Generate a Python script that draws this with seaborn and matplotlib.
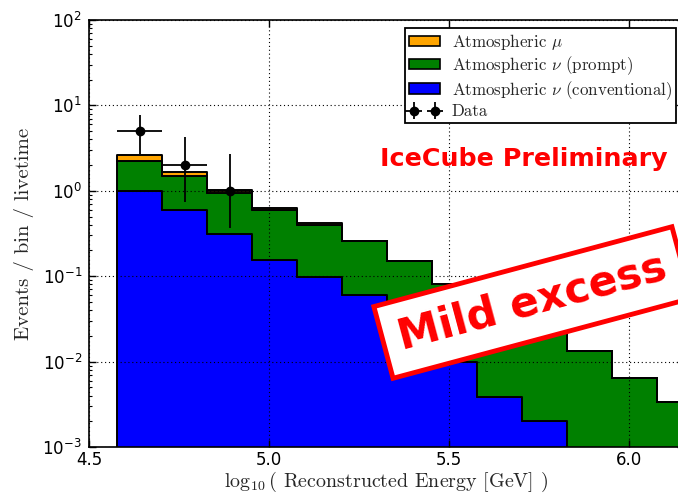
import numpy as np
import pandas as pd
import matplotlib
matplotlib.use("Agg")
import matplotlib.pyplot as plt
import matplotlib.patches as mpatches
import seaborn as sns

# ---------------- data ----------------
bin_edges = [4.578 + 0.125 * k for k in range(14)]
conventional = [1.0, 0.60, 0.31, 0.156, 0.099, 0.060, 0.025, 0.010, 0.0039, 0.00204, 0.0, 0.0, 0.0]
prompt = [1.21, 0.89, 0.625, 0.44, 0.296, 0.195, 0.125, 0.072, 0.041, 0.023, 0.0134, 0.00647, 0.0034]
muon = [0.41, 0.18, 0.08, 0.035, 0.022, 0.005, 0.001, 0.0, 0.0, 0.0, 0.0, 0.0, 0.0]

data_x = [4.6405, 4.7655, 4.8905]
data_y = [5.0, 2.0, 1.0]
data_err_lo = [2.30, 1.26, 0.63]
data_err_hi = [2.72, 2.27, 1.70]
data_xerr = [0.0625, 0.0625, 0.0625]

labels = [r"Atmospheric $\mu$", r"Atmospheric $\nu$ (prompt)", r"Atmospheric $\nu$ (conventional)"]
colors = ["#FFA500", "#008000", "#0000FF"]

# ---------------- build table ----------------
centers = [(bin_edges[i] + bin_edges[i + 1]) / 2 for i in range(len(bin_edges) - 1)]
rows = []
for name, vals in zip(labels, [muon, prompt, conventional]):
    for c, v in zip(centers, vals):
        rows.append({"x": c, "w": v, "comp": name})
df = pd.DataFrame(rows)

sns.set_style("ticks")
plt.rcParams["mathtext.fontset"] = "cm"
plt.rcParams["font.family"] = ["DejaVu Sans"]
plt.rcParams["axes.unicode_minus"] = False

fig = plt.figure(figsize=(6.78, 4.93), dpi=100)
ax = fig.add_axes([89 / 678, 1 - 447 / 493, (684 - 89) / 678, (447 - 20) / 493])

sns.histplot(data=df, x="x", weights="w", hue="comp", hue_order=labels,
             multiple="stack", element="step", bins=bin_edges,
             palette=dict(zip(labels, colors)), edgecolor="black",
             linewidth=1.4, alpha=1.0, legend=False, ax=ax)

ax.set_yscale("log")
ax.set_ylim(1e-3, 1e2)
ax.set_xlim(4.5, 4.5 + (684 - 89) / 360)
ax.set_xticks([4.5, 5.0, 5.5, 6.0])
ax.set_xticklabels(["4.5", "5.0", "5.5", "6.0"])

eb = ax.errorbar(data_x, data_y, yerr=[data_err_lo, data_err_hi], xerr=data_xerr,
                 fmt="o", color="black", ms=6, elinewidth=1.3, capsize=0, zorder=5,
                 label="Data")

ax.grid(True, which="major", color="black", linestyle=(0, (1, 2.5)), linewidth=0.8)
ax.set_axisbelow(False)

for sp in ax.spines.values():
    sp.set_linewidth(1.2)
    sp.set_color("black")

ax.tick_params(axis="both", which="both", direction="in", top=True, right=True,
               labelsize=12, colors="black")
ax.tick_params(axis="both", which="major", length=5, width=1, pad=5)
ax.tick_params(axis="x", which="major", pad=3)
ax.tick_params(axis="both", which="minor", length=2.5, width=0.8)
ax.tick_params(axis="x", which="minor", bottom=False, top=False)

ax.set_xlabel(r"$\log_{10}$( Reconstructed Energy [GeV] )", fontsize=14.4,
              fontfamily="cmr10")
ax.xaxis.set_label_coords(0.5, (447 - 469.5) / 427)
ax.set_ylabel("Events / bin / livetime", fontsize=15, fontfamily="cmr10")
ax.yaxis.set_label_coords((34 - 89) / 595, 0.5)

handles = [mpatches.Patch(facecolor=c, edgecolor="black", linewidth=1.2) for c in colors]
handles.append(eb)
leg = ax.legend(handles, labels + ["Data"], loc="upper right", numpoints=2,
                prop={"family": "cmr10", "size": 12.2}, fancybox=False,
                framealpha=1, edgecolor="black", borderpad=0.2,
                labelspacing=0.13, handletextpad=0.7, handlelength=1.85,
                handleheight=0.6)
leg.get_frame().set_linewidth(1.3)
leg.set_zorder(10)

fig.text(524 / 678, 1 - 159 / 493, "IceCube Preliminary", color="red",
         fontsize=18.3, fontweight="bold", ha="center", va="center",
         fontfamily="DejaVu Sans")

fig.text(532.5 / 678, 1 - 302.5 / 493, "Mild excess", color="red", fontsize=30.5,
         fontweight="bold", ha="center", va="center", rotation=15,
         rotation_mode="anchor", fontfamily="DejaVu Sans", zorder=20,
         bbox=dict(boxstyle="square,pad=0.38", facecolor="white",
                   edgecolor="red", linewidth=3.5))

fig.savefig("out.png", dpi=100)
